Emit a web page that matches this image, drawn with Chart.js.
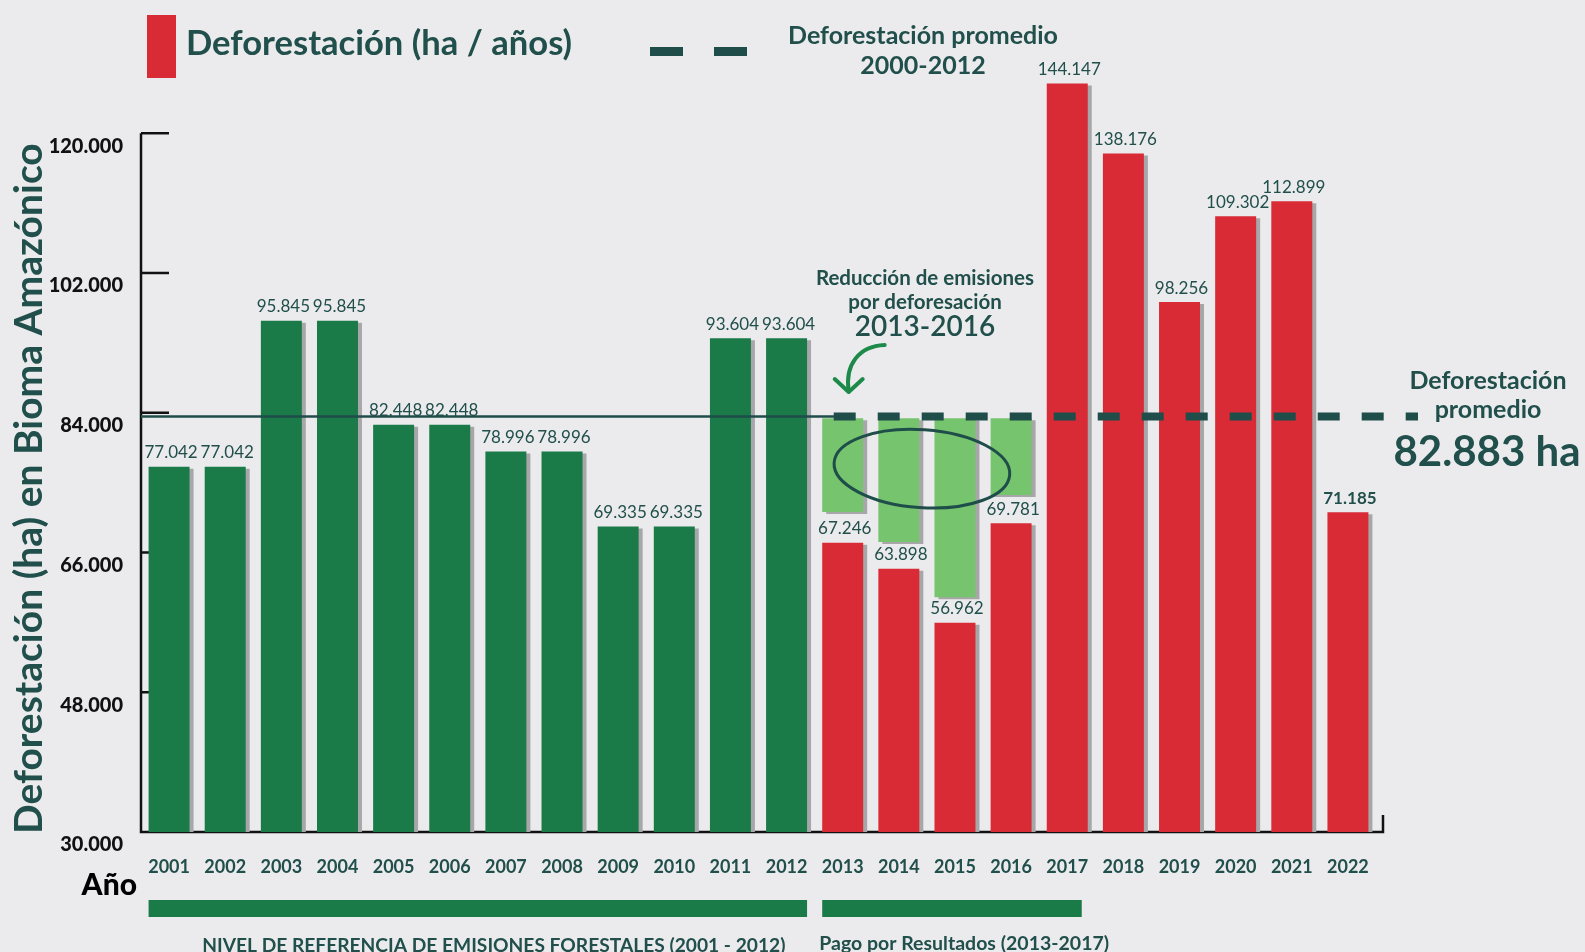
<!DOCTYPE html>
<html lang="es">
<head>
<meta charset="utf-8">
<title>Deforestación en Bioma Amazónico</title>
<script src="https://cdn.jsdelivr.net/npm/chart.js@4.4.0/dist/chart.umd.min.js"></script>
<style>
  html, body { margin: 0; padding: 0; background: #ebebed; }
  #grafico { display: block; }
</style>
</head>
<body>
<canvas id="grafico" width="1585" height="952"></canvas>
<script>
// Años y valores de deforestación (ha) tal como aparecen en las etiquetas
const anios = ['2001','2002','2003','2004','2005','2006','2007','2008','2009','2010','2011',
               '2012','2013','2014','2015','2016','2017','2018','2019','2020','2021','2022'];
const deforestacion = [77042, 77042, 95845, 95845, 82448, 82448, 78996, 78996, 69335, 69335, 93604,
                       93604, 67246, 63898, 56962, 69781, 144147, 138176, 98256, 109302, 112899, 71185];
// Altura a la que está dibujada cada barra en la imagen (2017, 2018 y 2021 no van a escala)
const alturaBarra = [77042, 77042, 95845, 95845, 82448, 82448, 78996, 78996, 69335, 69335, 93604,
                     93604, 67246, 63898, 56962, 69781, 126400, 117400, 98256, 109302, 111250, 71185];
// Barras verde claro de reducción (2013-2016): desde la base hasta la línea promedio
const reduccionBase = [null, null, null, null, null, null, null, null, null, null, null,
                       null, 71200, 67340, 60250, 73390, null, null, null, null, null, null];
const reduccionTope = 83300;
const promedioLinea = 83500;   // altura a la que se dibuja la línea de promedio
const ticksY = [30000, 48000, 66000, 84000, 102000, 120000];
const ultimoReferencia = 11;   // 2012
const ultimoPago = 16;         // 2017

const VERDE = '#1a7a48';
const VERDE_CLARO = '#77c46f';
const ROJO = '#d92b36';
const TEXTO = '#214f4b';
const SOMBRA = '#a7a7a9';

const fmt = v => v.toLocaleString('de-DE');

// Sombra gris desplazada detrás de cada barra
const sombraBarras = {
    id: 'sombraBarras',
    beforeDatasetDraw(chart) {
        const ctx = chart.ctx;
        ctx.save();
        ctx.shadowColor = SOMBRA;
        ctx.shadowOffsetX = 4;
        ctx.shadowOffsetY = 2;
        ctx.shadowBlur = 0;
    },
    afterDatasetDraw(chart) {
        chart.ctx.restore();
    }
};

// Ejes dibujados a mano: línea vertical, marcas hacia dentro, línea base
const ejes = {
    id: 'ejes',
    beforeDatasetsDraw(chart) {
        const { ctx, chartArea: a, scales: { y } } = chart;
        ctx.save();
        ctx.strokeStyle = '#111';
        ctx.lineWidth = 2.5;
        ctx.beginPath();
        ctx.moveTo(a.left, y.getPixelForValue(ticksY[ticksY.length - 1]));
        ctx.lineTo(a.left, a.bottom);
        ctx.lineTo(a.right + 7, a.bottom);
        ctx.lineTo(a.right + 7, a.bottom - 17);
        ctx.stroke();
        ctx.font = '900 20px Lato';
        ctx.fillStyle = '#111';
        ctx.textAlign = 'right';
        ctx.textBaseline = 'middle';
        ticksY.forEach(v => {
            const py = y.getPixelForValue(v);
            if (v > ticksY[0]) {
                ctx.beginPath();
                ctx.moveTo(a.left, py);
                ctx.lineTo(a.left + 28, py);
                ctx.stroke();
            }
            ctx.fillText(fmt(v), a.left - 18, py + 13);
        });
        ctx.restore();
    }
};

// Todo lo demás: promedio, etiquetas, anotaciones, leyenda y bandas
const adornos = {
    id: 'adornos',
    afterDatasetsDraw(chart) {
        const { ctx, chartArea: a, scales: { x, y } } = chart;
        const meta = chart.getDatasetMeta(1);
        ctx.save();

        // línea de promedio: sólida hasta 2012, luego discontinua gruesa
        const yProm = y.getPixelForValue(promedioLinea);
        const inicioGuiones = x.getPixelForValue(12) - 9;
        ctx.strokeStyle = '#1f4d4a';
        ctx.lineWidth = 8;
        ctx.setLineDash([22, 22]);
        ctx.beginPath();
        ctx.moveTo(inicioGuiones, yProm);
        ctx.lineTo(a.right + 42, yProm);
        ctx.stroke();
        ctx.setLineDash([]);
        ctx.lineWidth = 2.5;
        ctx.beginPath();
        ctx.moveTo(a.left, yProm);
        ctx.lineTo(inicioGuiones + 12, yProm);
        ctx.stroke();

        // etiquetas de valor sobre cada barra
        ctx.fillStyle = TEXTO;
        ctx.textAlign = 'center';
        ctx.textBaseline = 'middle';
        meta.data.forEach((bar, i) => {
            ctx.font = (i === anios.length - 1 ? 'bold ' : '') + '17px Lato';
            ctx.fillText(fmt(deforestacion[i]), bar.x + 2, bar.y - 14);
        });

        // años
        ctx.font = 'bold 18px Lato';
        anios.forEach((an, i) => ctx.fillText(an, x.getPixelForValue(i), a.bottom + 35));

        // elipse alrededor de la reducción
        ctx.strokeStyle = '#1f4d4a';
        ctx.lineWidth = 3;
        ctx.beginPath();
        ctx.ellipse((x.getPixelForValue(13) + x.getPixelForValue(14)) / 2 - 5,
                    y.getPixelForValue(76800), 88, 39, 4 * Math.PI / 180, 0, Math.PI * 2);
        ctx.stroke();

        // flecha verde curva
        const fx = x.getPixelForValue(12);
        ctx.strokeStyle = '#1d8a4a';
        ctx.lineWidth = 4;
        ctx.lineCap = 'round';
        ctx.lineJoin = 'round';
        ctx.beginPath();
        ctx.moveTo(fx + 42, 345);
        ctx.bezierCurveTo(fx + 16, 346, fx + 2, 365, fx + 6, 391);
        ctx.stroke();
        ctx.beginPath();
        ctx.moveTo(fx - 8, 379);
        ctx.lineTo(fx + 6, 392);
        ctx.lineTo(fx + 20, 379);
        ctx.stroke();

        // texto de la anotación de reducción
        ctx.fillStyle = TEXTO;
        ctx.font = 'bold 20.5px Lato';
        ctx.fillText('Reducción de emisiones', 925, 278);
        ctx.fillText('por deforesación', 925, 302);
        ctx.font = '600 28px Lato';
        ctx.fillText('2013-2016', 925, 327);

        // anotación del promedio a la derecha
        ctx.font = 'bold 25px Lato';
        ctx.fillText('Deforestación', 1488, 381);
        ctx.fillText('promedio', 1488, 410);
        ctx.font = 'bold 42px Lato';
        ctx.fillText('82.883 ha', 1487, 452);

        // leyenda superior
        ctx.fillStyle = ROJO;
        ctx.fillRect(147, 15, 29, 63);
        ctx.fillStyle = TEXTO;
        ctx.textAlign = 'left';
        ctx.font = 'bold 34.6px Lato';
        ctx.fillText('Deforestación (ha / años)', 186, 44);
        ctx.fillStyle = '#1f4d4a';
        ctx.fillRect(650, 47, 33, 9);
        ctx.fillRect(714, 47, 33, 9);
        ctx.fillStyle = TEXTO;
        ctx.textAlign = 'center';
        ctx.font = 'bold 25px Lato';
        ctx.fillText('Deforestación promedio', 923, 36);
        ctx.fillText('2000-2012', 923, 66);

        // título del eje Y
        ctx.save();
        ctx.translate(29, (y.getPixelForValue(ticksY[ticksY.length - 1]) + a.bottom) / 2 + 6);
        ctx.rotate(-Math.PI / 2);
        ctx.font = 'bold 39px Lato';
        ctx.fillText('Deforestación (ha) en Bioma Amazónico', 0, 0);
        ctx.restore();

        // "Año"
        ctx.fillStyle = '#000';
        ctx.textAlign = 'right';
        ctx.font = '900 30px Lato';
        ctx.fillText('Año', a.left - 4, a.bottom + 53);

        // bandas de periodo
        const mitad = meta.data[0].width / 2;
        const izq1 = meta.data[0].x - mitad;
        const der1 = meta.data[ultimoReferencia].x + mitad;
        const izq2 = meta.data[ultimoReferencia + 1].x - mitad;
        const der2 = meta.data[ultimoPago].x + mitad - 6;
        ctx.fillStyle = VERDE;
        ctx.fillRect(izq1, a.bottom + 68, der1 - izq1, 17);
        ctx.fillRect(izq2, a.bottom + 68, der2 - izq2, 17);
        ctx.fillStyle = TEXTO;
        ctx.font = 'bold 19.2px Lato';
        ctx.textAlign = 'center';
        ctx.fillText('NIVEL DE REFERENCIA DE EMISIONES FORESTALES (2001 - 2012)', (izq1 + der1) / 2 + 16, a.bottom + 114);
        ctx.textAlign = 'left';
        ctx.font = 'bold 19.5px Lato';
        ctx.fillText('Pago por Resultados (2013-2017)', izq2 - 3, a.bottom + 112);

        ctx.restore();
    }
};

new Chart(document.getElementById('grafico'), {
    type: 'bar',
    data: {
        labels: anios,
        datasets: [
            {
                label: 'Reducción',
                data: reduccionBase.map(b => b === null ? null : [b, reduccionTope]),
                backgroundColor: VERDE_CLARO,
                grouped: false,
                barPercentage: 0.73,
                categoryPercentage: 1
            },
            {
                label: 'Deforestación (ha / años)',
                data: alturaBarra,
                backgroundColor: anios.map((_, i) => i <= ultimoReferencia ? VERDE : ROJO),
                grouped: false,
                barPercentage: 0.73,
                categoryPercentage: 1
            }
        ]
    },
    options: {
        responsive: false,
        animation: false,
        devicePixelRatio: 1,
        layout: { padding: { left: 141, right: 209, top: 9, bottom: 120 } },
        plugins: { legend: { display: false }, tooltip: { enabled: false } },
        scales: {
            x: { display: false, offset: true },
            y: { display: false, min: 30000, max: 136000 }
        }
    },
    plugins: [sombraBarras, ejes, adornos]
});
</script>
</body>
</html>
